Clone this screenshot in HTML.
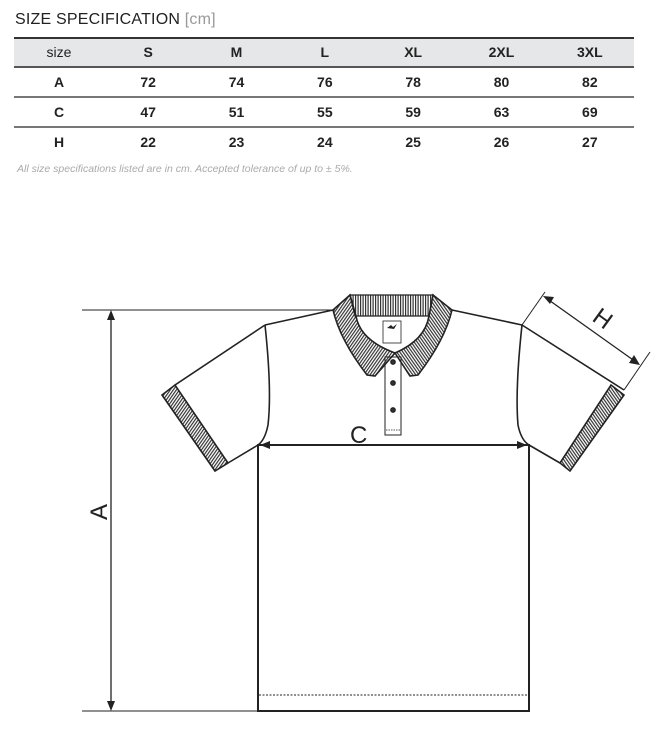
<!DOCTYPE html>
<html><head><meta charset="utf-8"><style>
body{margin:0;width:666px;height:742px;background:#fff;position:relative;font-family:"Liberation Sans",sans-serif;overflow:hidden}
.t{position:absolute;left:15px;top:11px;font-size:16px;color:#222;letter-spacing:0.2px}
.t span{color:#999}
table{position:absolute;left:14px;top:37px;width:620px;border-collapse:collapse;font-size:14px;color:#222;table-layout:fixed}
td{height:28px;text-align:center;font-weight:bold;padding:0;border-bottom:2px solid #777;line-height:28px}
tr.h td{height:27px;line-height:27px;background:#e6e7e8;border-top:2px solid #333;border-bottom:2px solid #555}
tr.h td:first-child{font-weight:normal}
tr:last-child td{border-bottom:none}
.n{position:absolute;left:17px;top:163px;font-size:10.5px;font-style:italic;color:#aaa}
svg{position:absolute;left:0;top:0}
</style></head><body>
<div class="t">SIZE SPECIFICATION <span>[cm]</span></div>
<table>
<colgroup><col style="width:90px"><col><col><col><col><col><col></colgroup>
<tr class="h"><td>size</td><td>S</td><td>M</td><td>L</td><td>XL</td><td>2XL</td><td>3XL</td></tr>
<tr><td>A</td><td>72</td><td>74</td><td>76</td><td>78</td><td>80</td><td>82</td></tr>
<tr><td>C</td><td>47</td><td>51</td><td>55</td><td>59</td><td>63</td><td>69</td></tr>
<tr><td>H</td><td>22</td><td>23</td><td>24</td><td>25</td><td>26</td><td>27</td></tr>
</table>
<div class="n">All size specifications listed are in cm. Accepted tolerance of up to ± 5%.</div>
<svg width="666" height="742" viewBox="0 0 666 742">
<defs>
<pattern id="hv" width="2.5" height="4" patternUnits="userSpaceOnUse"><rect width="1.2" height="4" fill="#333"/></pattern>
<pattern id="hd" width="2.5" height="4" patternUnits="userSpaceOnUse" patternTransform="rotate(-35)"><rect width="1.2" height="4" fill="#333"/></pattern>
<pattern id="hd2" width="2.5" height="4" patternUnits="userSpaceOnUse" patternTransform="rotate(35)"><rect width="1.2" height="4" fill="#333"/></pattern>
</defs>
<g stroke="#222" fill="none" stroke-width="1.3">
<line x1="82" y1="310" x2="335" y2="310" stroke-width="1"/>
<line x1="82" y1="711" x2="258" y2="711" stroke-width="1"/>
<line x1="111" y1="314" x2="111" y2="706"/>
<rect x="258" y="445" width="271" height="266" stroke-width="2"/>
<line x1="259" y1="695" x2="528" y2="695" stroke-dasharray="2,1.5" stroke-width="1"/>
<path d="M333 310 L265 325 M452 310 L522 325" stroke-width="1.6"/>
<path d="M265 325 Q272 390 268 425 Q265 440 258 445 M522 325 Q515 390 518 425 Q521 440 529 445" stroke-width="1.6"/>
<path d="M265 325 L175 385 M228 463 L258 445" stroke-width="1.6"/>
<polygon points="162,395 175,385 228,463 215,471" fill="url(#hd2)" stroke-width="1.6"/>
<path d="M522 325 L624 390 M560 463 L529 445" stroke-width="1.6"/>
<polygon points="611,385 624,395 570,471 560,463" fill="url(#hd)" stroke-width="1.6"/>
<polygon points="350,295 433,295 429,316 355,316" fill="url(#hv)"/>
<path d="M333 310 L350 295 L356 316 Q360 340 395 353 L375 376 L367 375 Q340 340 333 310 Z" fill="url(#hd2)" stroke-width="1.6"/>
<path d="M452 310 L433 295 L429 316 Q425 340 395 353 L410 376 L418 375 Q445 340 452 310 Z" fill="url(#hd)" stroke-width="1.6"/>
<rect x="383" y="321" width="18" height="22" stroke-width="0.8"/>
<path d="M387 328 l4 -3 l2 2 l4 -3 l-3 5 z" fill="#222" stroke="none"/>
<rect x="385" y="357" width="16" height="78" stroke-width="1"/>
<line x1="386" y1="430" x2="400" y2="430" stroke-dasharray="1.5,1" stroke-width="0.8"/>
<circle cx="393" cy="362" r="2.2" fill="#333"/>
<circle cx="393" cy="383" r="2.2" fill="#333"/>
<circle cx="393" cy="410" r="2.2" fill="#333"/>
<line x1="264" y1="445" x2="523" y2="445"/>
<line x1="522" y1="325" x2="545" y2="292" stroke-width="1"/>
<line x1="624" y1="390" x2="650" y2="352" stroke-width="1"/>
<line x1="546" y1="298" x2="636" y2="362"/>
</g>
<g fill="#222">
<polygon points="111,310 107,320 115,320"/>
<polygon points="111,711 107,701 115,701"/>
<polygon points="260,445 270,441 270,449"/>
<polygon points="527,445 517,441 517,449"/>
<polygon points="543,296 550,304 554,297"/>
<polygon points="640,365 629,363 634,355"/>
</g>
<g font-family="Liberation Sans,sans-serif" font-size="24" fill="#222">
<text x="350" y="443">C</text>
<text transform="translate(107,520) rotate(-90)">A</text>
<text transform="translate(591,320) rotate(36)">H</text>
</g>
</svg>
</body></html>
